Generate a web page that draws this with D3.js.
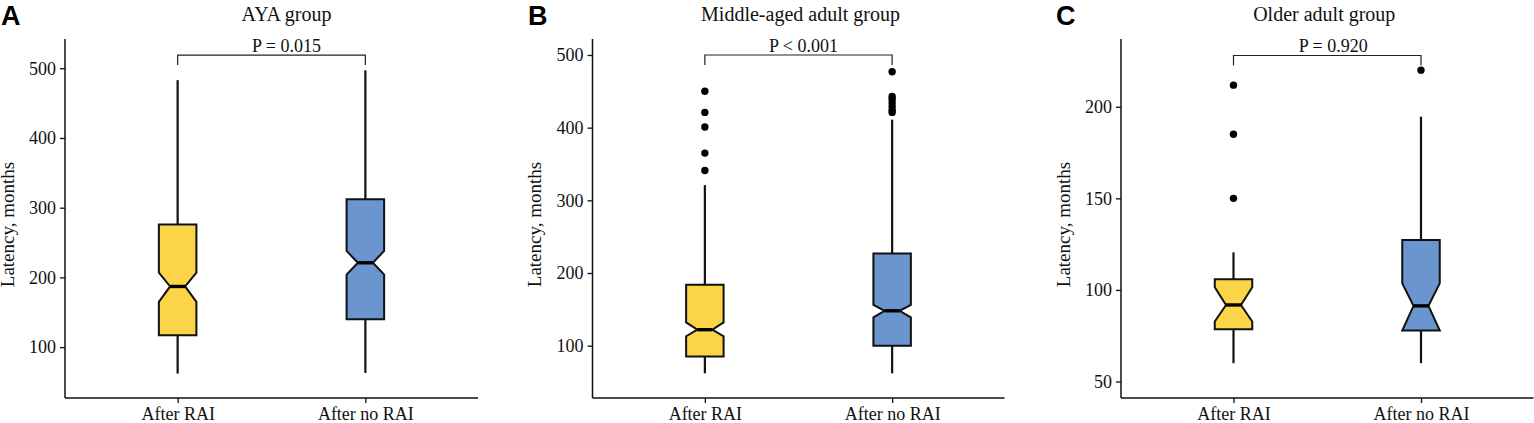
<!DOCTYPE html>
<html>
<head>
<meta charset="utf-8">
<script src="https://cdn.jsdelivr.net/npm/d3@7"></script>
<style>
  body { margin: 0; background: #fff; }
  svg { display: block; }
  .tick text { font-family: "Liberation Serif", "Times New Roman", serif; }
</style>
</head>
<body>
<div id="chart"></div>
<script>
//Chart values
var categories = ["After RAI", "After no RAI"];
var panelLetters = ["A", "B", "C"];
var panelTitles = ["AYA group", "Middle-aged adult group", "Older adult group"];
var pLabels = ["P = 0.015", "P < 0.001", "P = 0.920"];

//y axis tick labels per panel
var yTicksA = [100, 200, 300, 400, 500];
var yTicksB = [100, 200, 300, 400, 500];
var yTicksC = [50, 100, 150, 200];

//box statistics: lower whisker, Q1, median, Q3, upper whisker, notch (low, high), outliers
var ayaRai = { min: 62, q1: 117, med: 187, q3: 276, max: 483, notch: [165, 207], out: [] };
var ayaNoRai = { min: 63, q1: 140, med: 221, q3: 312, max: 497, notch: [204, 238], out: [] };

var midRai = { min: 62, q1: 85, med: 122, q3: 184, max: 321, notch: [113, 132], out: [450, 421, 401, 365, 341] };
var midNoRai = { min: 62, q1: 100, med: 148, q3: 227, max: 411, notch: [139, 156], out: [477, 443, 439, 434, 429, 424, 421] };

var oldRai = { min: 60, q1: 78.6, med: 91.8, q3: 105.8, max: 120.5, notch: [82.8, 101.5], out: [211.8, 185, 150] };
var oldNoRai = { min: 60, q1: 77.8, med: 91.3, q3: 127.2, max: 194.6, notch: [77.8, 103.6], out: [220] };

//bracket heights in data units
var bracketY = [519, 500, 228];

var fillColors = ["#FCD447", "#6A95CF"];
var serif = "'Liberation Serif', 'Times New Roman', serif";

var W = 1534, H = 423;
var svg = d3.select("#chart").append("svg")
    .attr("width", W).attr("height", H);

//layout per panel
var panels = [
    { left: 65, right: 478, domain: [27, 542], ticks: yTicksA, boxes: [ayaRai, ayaNoRai], titleDx: 15, pDx: 15, letterX: 1, ytitleX: 14 },
    { left: 592.5, right: 1004.5, domain: [28, 522], ticks: yTicksB, boxes: [midRai, midNoRai], titleDx: 2, pDx: 5, letterX: 528, ytitleX: 541 },
    { left: 1121, right: 1533.5, domain: [41, 237], ticks: yTicksC, boxes: [oldRai, oldNoRai], titleDx: -3, pDx: 6, letterX: 1056, ytitleX: 1070 }
];
var plotTop = 39, plotBottom = 398;

panels.forEach(function (p, i) {
    var g = svg.append("g");

    var x = d3.scalePoint().domain(categories).range([p.left, p.right]).padding(0.6);
    var y = d3.scaleLinear().domain(p.domain).range([plotBottom, plotTop]);
    var boxW = x.step() * 0.2;
    var notchW = boxW * 0.3;

    //axes
    var yAxis = g.append("g")
        .attr("transform", "translate(" + p.left + ",0)")
        .call(d3.axisLeft(y).tickValues(p.ticks).tickSize(5).tickPadding(4).tickSizeOuter(0));
    var xAxis = g.append("g")
        .attr("transform", "translate(0," + plotBottom + ")")
        .call(d3.axisBottom(x).tickSize(5).tickPadding(7).tickSizeOuter(0));

    [yAxis, xAxis].forEach(function (a) {
        a.select(".domain").attr("stroke", "#111").attr("stroke-width", 1.5);
        a.selectAll(".tick line").attr("stroke", "#111").attr("stroke-width", 1.3);
        a.selectAll(".tick text").attr("fill", "#111").style("font-size", "18px");
    });
    yAxis.select(".domain").attr("d", "M0," + plotTop + "V" + plotBottom);
    xAxis.select(".domain").attr("d", "M" + p.left + ",0H" + p.right);
    xAxis.selectAll(".tick text").attr("dy", "0.71em").attr("y", 9);

    //boxes
    p.boxes.forEach(function (b, j) {
        var cx = x(categories[j]);
        var bg = g.append("g");

        bg.append("line")
            .attr("x1", cx).attr("x2", cx)
            .attr("y1", y(b.max)).attr("y2", y(b.q3))
            .attr("stroke", "#111").attr("stroke-width", 2.2);
        bg.append("line")
            .attr("x1", cx).attr("x2", cx)
            .attr("y1", y(b.q1)).attr("y2", y(b.min))
            .attr("stroke", "#111").attr("stroke-width", 2.2);

        var hw = boxW / 2, nw = hw - notchW;
        var pts = [
            [cx - hw, y(b.q3)], [cx + hw, y(b.q3)],
            [cx + hw, y(b.notch[1])], [cx + nw, y(b.med)], [cx + hw, y(b.notch[0])],
            [cx + hw, y(b.q1)], [cx - hw, y(b.q1)],
            [cx - hw, y(b.notch[0])], [cx - nw, y(b.med)], [cx - hw, y(b.notch[1])]
        ];
        bg.append("path")
            .attr("d", d3.line()(pts) + "Z")
            .attr("fill", fillColors[j])
            .attr("stroke", "#111").attr("stroke-width", 2)
            .attr("stroke-linejoin", "miter");

        bg.append("line")
            .attr("x1", cx - nw).attr("x2", cx + nw)
            .attr("y1", y(b.med)).attr("y2", y(b.med))
            .attr("stroke", "#000").attr("stroke-width", 3.4);

        bg.selectAll("circle").data(b.out).enter()
            .append("circle")
            .attr("cx", cx).attr("cy", function (d) { return y(d); })
            .attr("r", 3.7).attr("fill", "#000");
    });

    //significance bracket
    var x1 = x(categories[0]), x2 = x(categories[1]), by = y(bracketY[i]);
    g.append("path")
        .attr("d", "M" + x1 + "," + (by + 10) + "V" + by + "H" + x2 + "V" + (by + 10))
        .attr("fill", "none").attr("stroke", "#222").attr("stroke-width", 1.2);
    g.append("text")
        .attr("x", (x1 + x2) / 2 + p.pDx).attr("y", by - 3)
        .attr("text-anchor", "middle")
        .style("font-family", serif).style("font-size", "18px").attr("fill", "#111")
        .text(pLabels[i]);

    //titles
    g.append("text")
        .attr("x", (p.left + p.right) / 2 + p.titleDx).attr("y", 21)
        .attr("text-anchor", "middle")
        .style("font-family", serif).style("font-size", "20px").attr("fill", "#111")
        .text(panelTitles[i]);

    g.append("text")
        .attr("transform", "translate(" + p.ytitleX + "," + ((plotTop + plotBottom) / 2 + 6) + ") rotate(-90)")
        .attr("text-anchor", "middle")
        .style("font-family", serif).style("font-size", "19px").attr("fill", "#111")
        .text("Latency, months");

    g.append("text")
        .attr("x", p.letterX).attr("y", 25)
        .style("font-family", "'Liberation Sans', Arial, sans-serif")
        .style("font-size", "27px").style("font-weight", "bold").attr("fill", "#000")
        .text(panelLetters[i]);
});
</script>
</body>
</html>
